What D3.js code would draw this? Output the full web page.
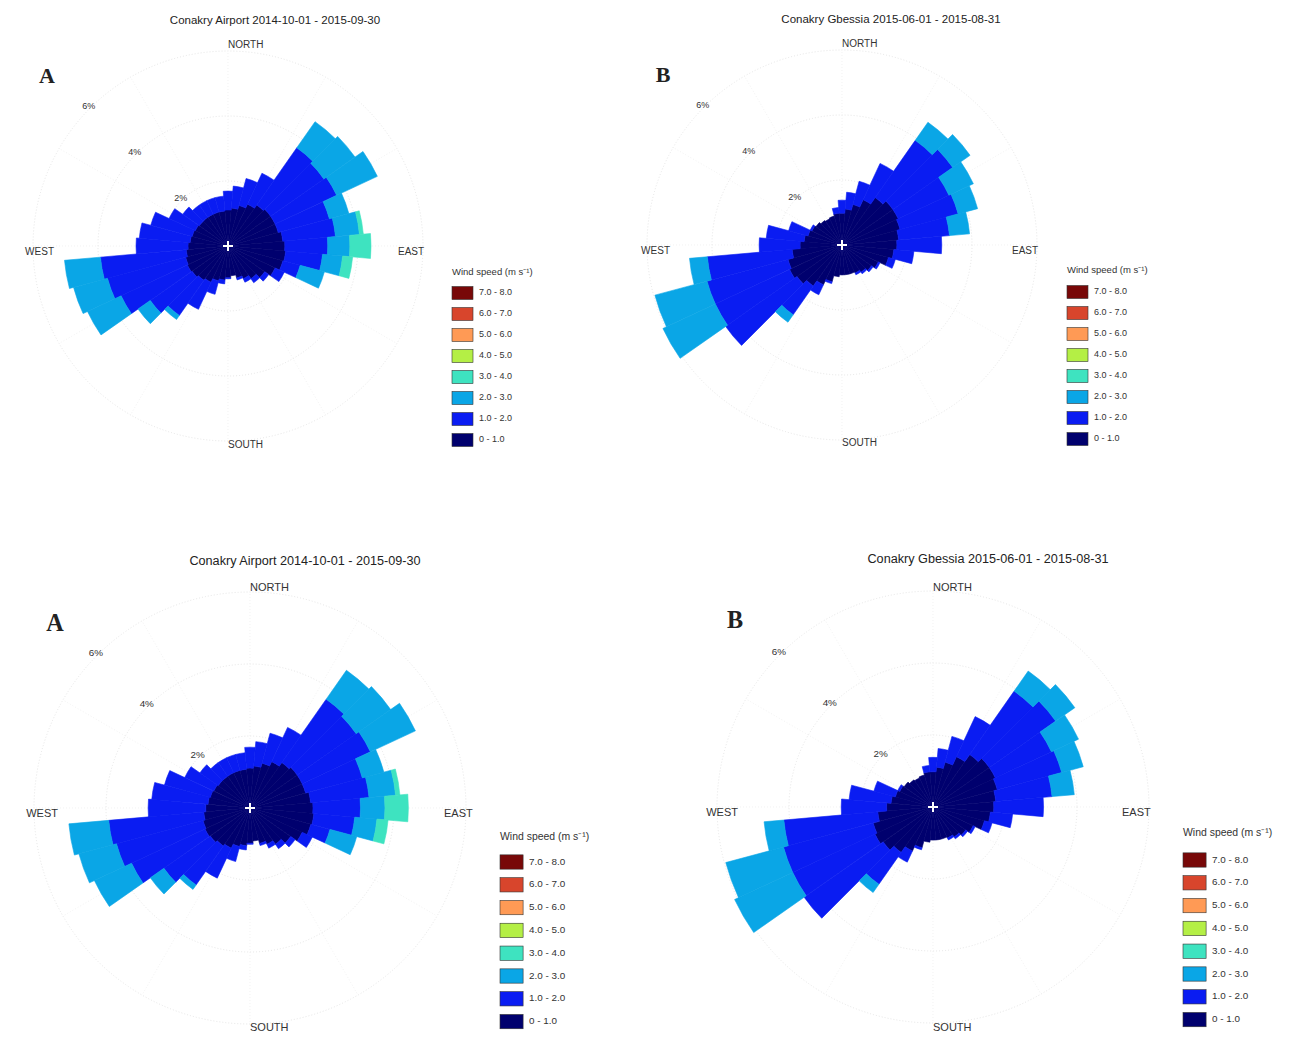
<!DOCTYPE html>
<html><head><meta charset="utf-8">
<script src="https://cdn.jsdelivr.net/npm/d3@7"></script>
<style>
body{margin:0;background:#fff;}
svg{display:block;font-family:"Liberation Sans",Arial,Helvetica,sans-serif;}
</style>
</head><body>
<svg id="chart" width="1308" height="1043"></svg>
<script>
// ---------------- DATA ----------------
const directions = [0,10,20,30,40,50,60,70,80,90,100,110,120,130,140,150,160,170,
                    180,190,200,210,220,230,240,250,260,270,280,290,300,310,320,330,340,350];
const speedBins = ["0 - 1.0","1.0 - 2.0","2.0 - 3.0","3.0 - 4.0","4.0 - 5.0","5.0 - 6.0","6.0 - 7.0","7.0 - 8.0"];
const binColors = ["#00006e","#0a1cf2","#0aa6e6","#3ee3c0","#b4ef45","#ff9a55","#d8452c","#780808"];
const ringTicks = [2,4,6];
const ringTickLabels = ["2%","4%","6%"];
const compassLabels = ["NORTH","EAST","SOUTH","WEST"];
const legendTitle = "Wind speed (m s\u207B\u00B9)";
const titleA = "Conakry Airport 2014-10-01 - 2015-09-30";
const titleB = "Conakry Gbessia 2015-06-01 - 2015-08-31";

// Station A: frequency (%) per direction for each speed bin
const freqA_bin1 = [1.11,1.17,1.29,1.42,1.54,1.60,1.60,1.60,1.69,1.75,1.78,1.75,1.60,1.38,1.23,1.11,1.02,0.92,
                    0.98,1.05,1.11,1.23,1.29,1.35,1.38,1.35,1.29,1.23,1.17,1.14,1.11,1.08,1.08,1.08,1.08,1.08];
const freqA_bin2 = [0.58,0.68,0.86,1.05,2.15,2.00,2.09,1.63,1.63,1.32,1.14,0.55,0.31,0.15,0.15,0.12,0.06,0,
                    0.03,0.12,0.43,0.92,1.32,1.57,2.25,2.49,2.65,1.60,1.57,1.32,0.89,0.62,0.46,0.46,0.46,0.46];
const freqA_bin3 = [0,0,0,0,0.98,1.17,1.38,0.62,0.74,0.68,0.62,0.77,0,0,0,0,0,0,
                    0,0,0,0,0.15,0.46,1.14,1.08,1.11,0,0,0,0,0,0,0,0,0];
const freqA_bin4 = [0,0,0,0,0,0,0,0,0.12,0.65,0.31,0,0,0,0,0,0,0,
                    0,0,0,0,0,0,0,0,0,0,0,0,0,0,0,0,0,0];

// Station B
const freqB_bin1 = [0.98,1.11,1.29,1.54,1.78,1.91,1.91,1.85,1.75,1.69,1.60,1.48,1.23,1.11,1.02,0.95,0.92,0.92,
                    0.92,0.98,1.17,1.35,1.54,1.69,1.78,1.72,1.54,1.29,1.17,1.08,1.02,0.98,0.92,0.89,0.92,0.98];
const freqB_bin2 = [0.40,0.52,0.74,1.23,2.15,2.25,1.72,1.85,1.57,1.38,0.62,0.22,0.06,0.06,0.06,0.06,0,0,
                    0,0,0.06,0.34,1.08,2.68,2.52,2.58,2.62,1.26,1.17,0.62,0.06,0,0,0,0,0.18];
const freqB_bin3 = [0,0,0,0,0.68,0.65,0.83,0.62,0.62,0,0,0,0,0,0,0,0,0,
                    0,0,0,0,0.28,0,1.78,1.66,0.55,0,0,0,0,0,0,0,0,0];
const freqB_bin4 = [0,0,0,0,0,0,0,0,0,0,0,0,0,0,0,0,0,0,
                    0,0,0,0,0,0,0,0,0,0,0,0,0,0,0,0,0,0];

// ---------------- BUILD TABLES ----------------
const binKeys = speedBins.map((d,i)=>"b"+i);
function makeTable(b1,b2,b3,b4){
  return directions.map((dir,i)=>{
    const row = {dir};
    const vals = [b1[i],b2[i],b3[i],b4[i],0,0,0,0];
    binKeys.forEach((k,j)=>row[k]=vals[j]);
    return row;
  });
}
const tableA = makeTable(freqA_bin1,freqA_bin2,freqA_bin3,freqA_bin4);
const tableB = makeTable(freqB_bin1,freqB_bin2,freqB_bin3,freqB_bin4);

// ---------------- LAYOUT ----------------
const panels = [
  {table:tableA, title:titleA, letter:"A", cx:228, cy:246, R:195, fs:1.0,
   titleX:275, titleY:21, nY:-201, sY:199, wX:-174, eX:170, letX:47, letY:78,
   legX:452, legY:293, legStep:21, legTitleY:272},
  {table:tableB, title:titleB, letter:"B", cx:842, cy:245, R:195, fs:1.0,
   titleX:891, titleY:20, nY:-201, sY:198, wX:-172, eX:170, letX:663, letY:77,
   legX:1067, legY:292, legStep:21, legTitleY:270},
  {table:tableA, title:titleA, letter:"A", cx:250, cy:808, R:216, fs:1.1,
   titleX:305, titleY:562, nY:-220, sY:220, wX:-192, eX:194, letX:55, letY:625,
   legX:500, legY:862, legStep:22.8, legTitleY:837},
  {table:tableB, title:titleB, letter:"B", cx:933, cy:807, R:216, fs:1.1,
   titleX:988, titleY:560, nY:-219, sY:221, wX:-195, eX:189, letX:735, letY:622,
   legX:1183, legY:860, legStep:22.8, legTitleY:833}
];

const svg = d3.select("#chart");
const toRad = d => d*Math.PI/180;
const stack = d3.stack().keys(binKeys);
const color = d3.scaleOrdinal().domain(binKeys).range(binColors);

panels.forEach(p=>{
  const g = svg.append("g");
  const r = d3.scaleLinear().domain([0, ringTicks[ringTicks.length-1]]).range([0, p.R]);
  const c = g.append("g").attr("transform",`translate(${p.cx},${p.cy})`);

  // grid circles & spokes
  c.selectAll("circle.ring").data(ringTicks).join("circle")
    .attr("r",d=>r(d)).attr("fill","none")
    .attr("stroke","#dedede").attr("stroke-width",0.8).attr("stroke-dasharray","1,2");
  c.selectAll("line.spoke").data([0,30,60,90,120,150,180,210,240,270,300,330]).join("line")
    .attr("x1",0).attr("y1",0)
    .attr("x2",d=>r(6)*Math.sin(toRad(d))).attr("y2",d=>-r(6)*Math.cos(toRad(d)))
    .attr("stroke","#ececec").attr("stroke-width",0.7).attr("stroke-dasharray","1,2");

  // petals
  const series = stack(p.table);
  const arc = d3.arc();
  series.forEach(s=>{
    c.append("g").selectAll("path").data(s.filter(d=>d[1]-d[0]>0)).join("path")
      .attr("d",d=>arc({innerRadius:r(d[0]), outerRadius:r(d[1]),
                        startAngle:toRad(d.data.dir-5), endAngle:toRad(d.data.dir+5)}))
      .attr("fill",color(s.key)).attr("stroke",color(s.key)).attr("stroke-width",0.6);
  });

  // centre cross
  c.append("path").attr("d","M-5,0H5M0,-5V5").attr("stroke","#fff").attr("stroke-width",2);

  // ring labels
  c.selectAll("text.rl").data(ringTicks).join("text")
    .attr("x",(d)=>(r(d)+2)*Math.sin(toRad(315)))
    .attr("y",(d)=>-(r(d)+2)*Math.cos(toRad(315)))
    .attr("text-anchor","middle").attr("dominant-baseline","middle")
    .attr("font-size",9*p.fs).attr("fill","#333")
    .text((d,i)=>ringTickLabels[i]);

  // compass labels
  const fsz = 10*p.fs;
  c.append("text").attr("x",0).attr("y",p.nY).attr("dominant-baseline","middle")
    .attr("font-size",fsz).attr("fill","#333").text(compassLabels[0]);
  c.append("text").attr("x",p.eX).attr("y",6).attr("dominant-baseline","middle")
    .attr("font-size",fsz).attr("fill","#333").text(compassLabels[1]);
  c.append("text").attr("x",0).attr("y",p.sY).attr("dominant-baseline","middle")
    .attr("font-size",fsz).attr("fill","#333").text(compassLabels[2]);
  c.append("text").attr("x",p.wX).attr("y",6).attr("text-anchor","end").attr("dominant-baseline","middle")
    .attr("font-size",fsz).attr("fill","#333").text(compassLabels[3]);

  // title
  g.append("text").attr("x",p.titleX).attr("y",p.titleY).attr("text-anchor","middle")
    .attr("dominant-baseline","middle").attr("font-size",11.5*p.fs).attr("fill","#222").text(p.title);

  // panel letter
  g.append("text").attr("x",p.letX).attr("y",p.letY).attr("text-anchor","middle")
    .attr("dominant-baseline","middle").attr("font-family","'Liberation Serif','Times New Roman',serif")
    .attr("font-weight","bold").attr("font-size",22*p.fs).attr("fill","#222").text(p.letter);

  // legend
  const lg = g.append("g");
  lg.append("text").attr("x",p.legX).attr("y",p.legTitleY).attr("dominant-baseline","middle")
    .attr("font-size",9.5*p.fs).attr("fill","#333").text(legendTitle);
  const order = speedBins.map((d,i)=>i).reverse();
  const sw = 21*p.fs, sh = 13*p.fs;
  lg.selectAll("rect").data(order).join("rect")
    .attr("x",p.legX).attr("y",(d,i)=>p.legY + i*p.legStep - sh/2)
    .attr("width",sw).attr("height",sh)
    .attr("fill",d=>binColors[d]).attr("stroke","#333").attr("stroke-width",0.6);
  lg.selectAll("text.li").data(order).join("text")
    .attr("x",p.legX+sw+6).attr("y",(d,i)=>p.legY + i*p.legStep)
    .attr("dominant-baseline","middle").attr("font-size",9*p.fs).attr("fill","#333")
    .text(d=>speedBins[d]);
});
</script>
</body></html>
